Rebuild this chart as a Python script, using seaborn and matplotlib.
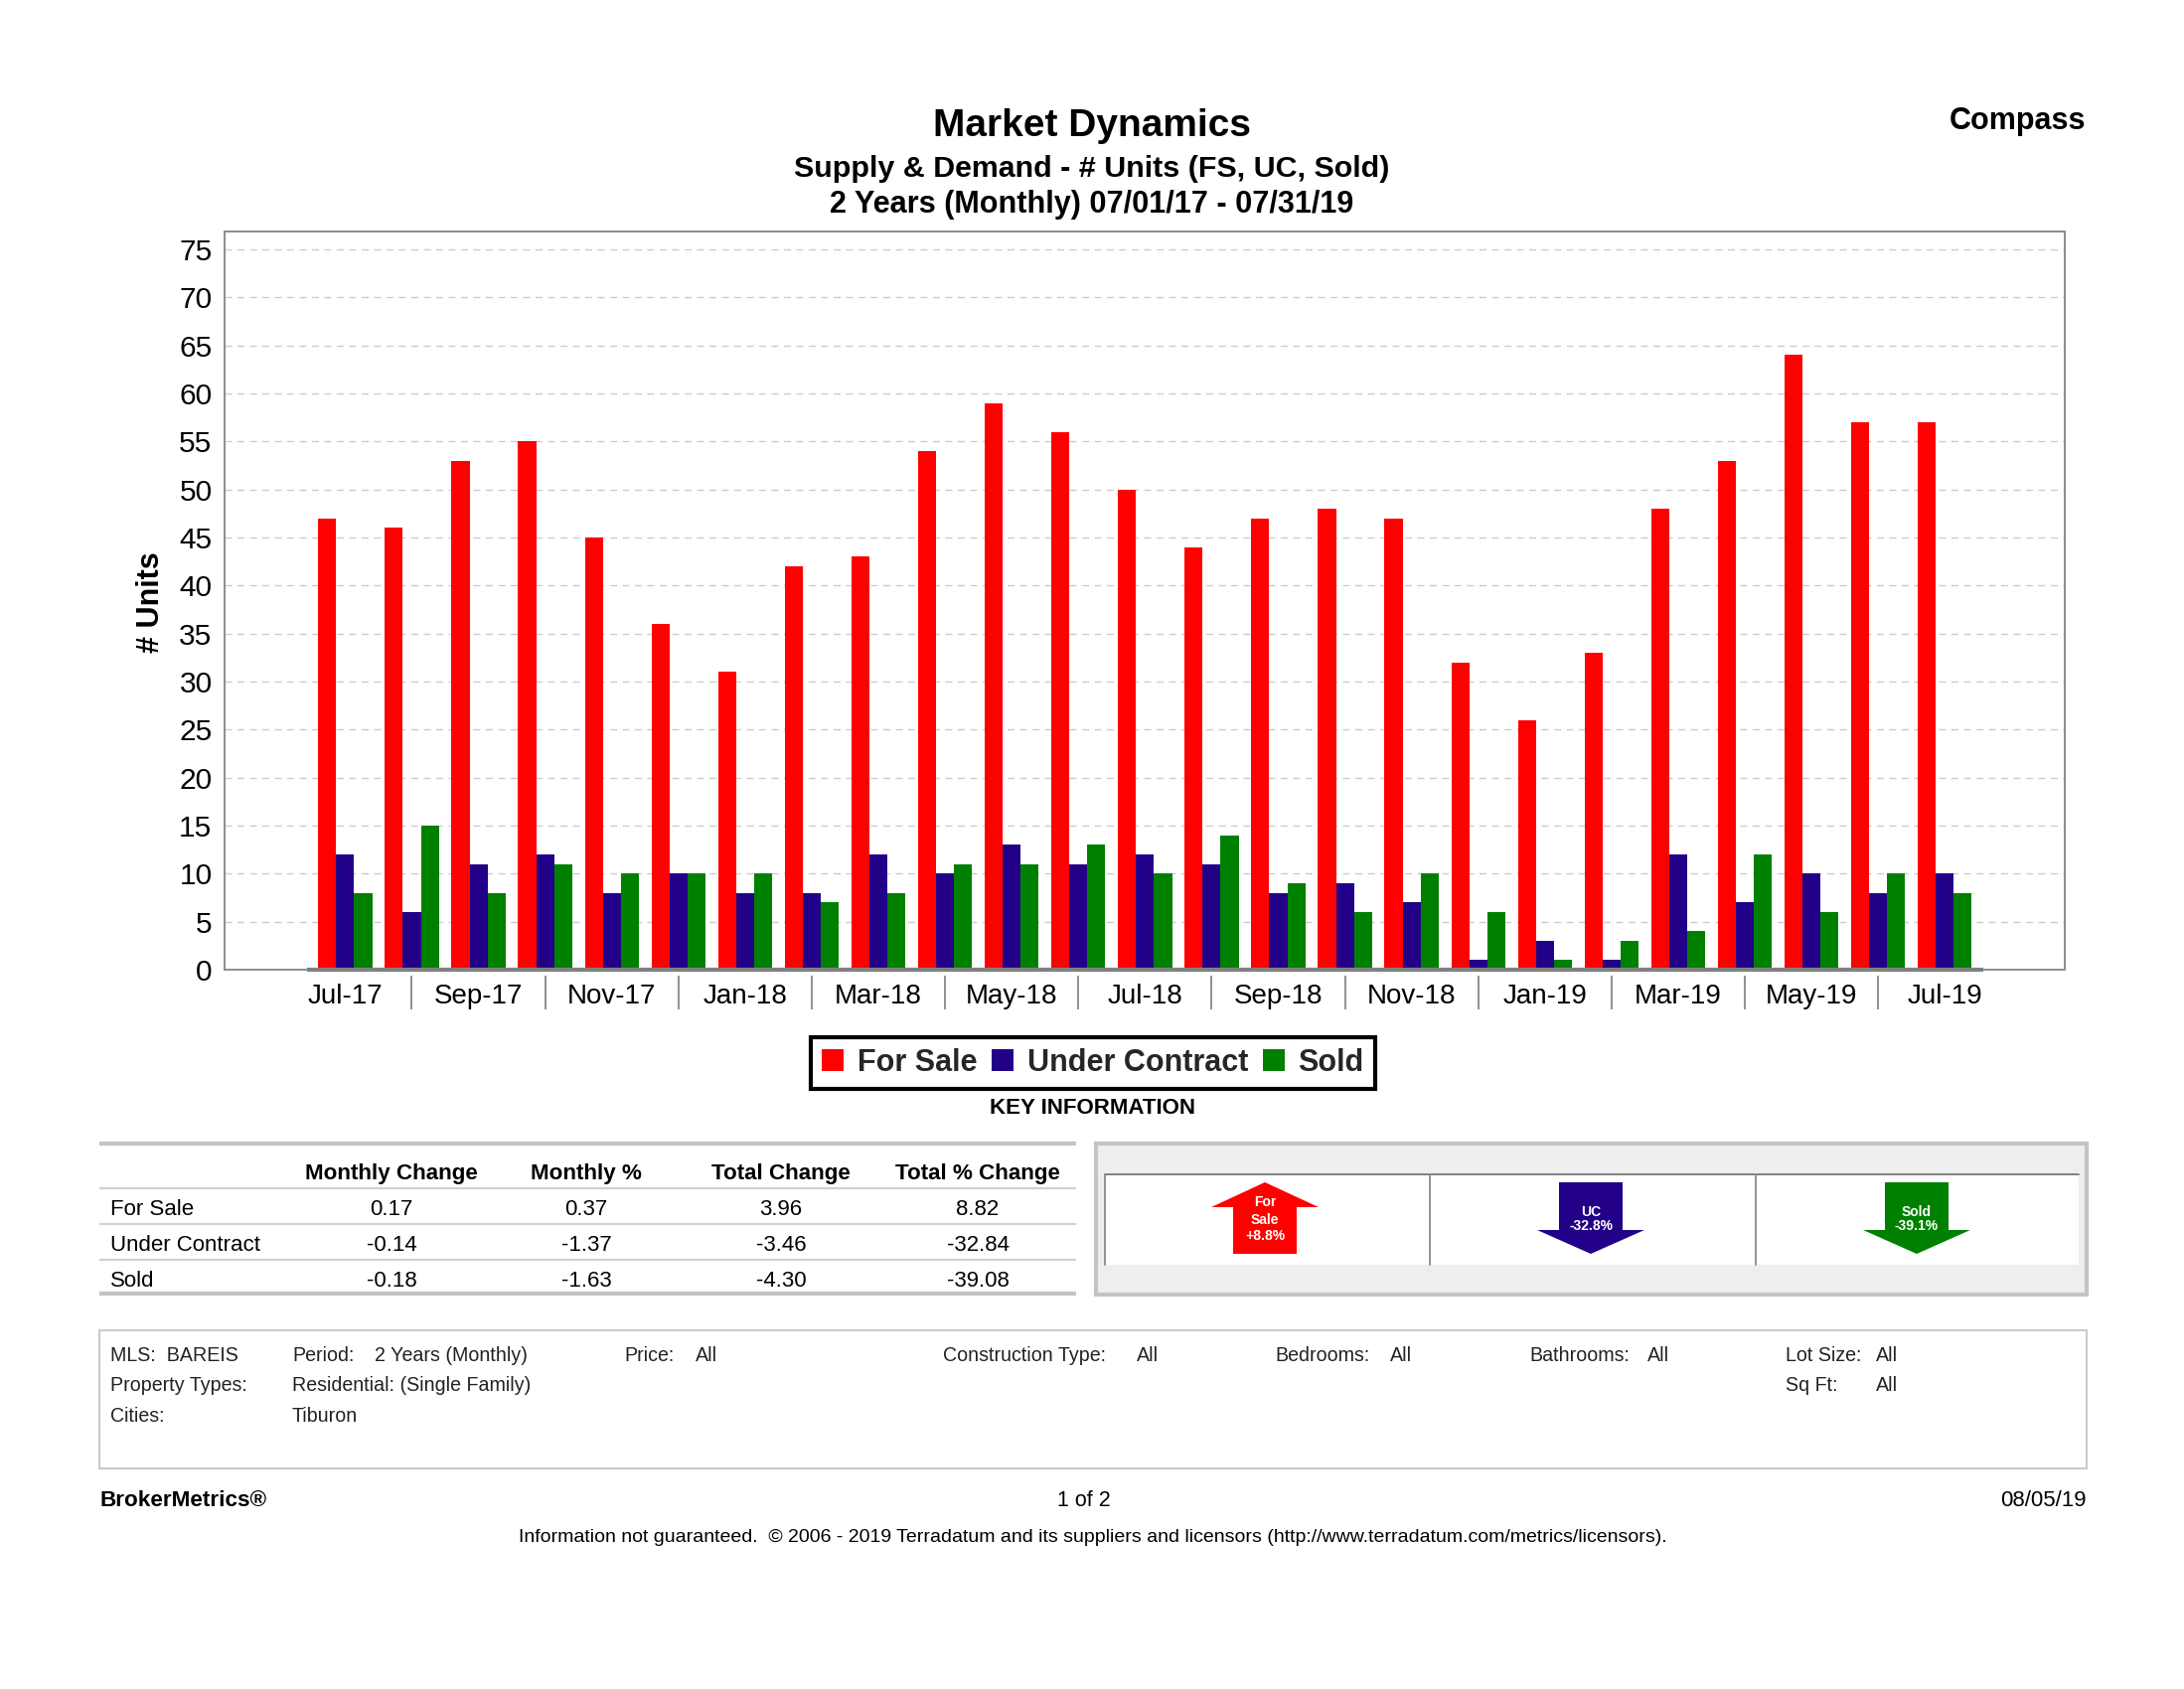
import matplotlib
matplotlib.use("Agg")
import matplotlib.pyplot as plt
from matplotlib.patches import Polygon, Rectangle
import pandas as pd
import seaborn as sns

months = ["Jul-17","Aug-17","Sep-17","Oct-17","Nov-17","Dec-17","Jan-18","Feb-18","Mar-18","Apr-18","May-18","Jun-18",
          "Jul-18","Aug-18","Sep-18","Oct-18","Nov-18","Dec-18","Jan-19","Feb-19","Mar-19","Apr-19","May-19","Jun-19","Jul-19"]
for_sale = [47,46,53,55,45,36,31,42,43,54,59,56,50,44,47,48,47,32,26,33,48,53,64,57,57]
under_contract = [12,6,11,12,8,10,8,8,12,10,13,11,12,11,8,9,7,1,3,1,12,7,10,8,10]
sold = [8,15,8,11,10,10,10,7,8,11,11,13,10,14,9,6,10,6,1,3,4,12,6,10,8]
series_names = ["For Sale","Under Contract","Sold"]
series_colors = ["#ff0000","#220088","#008000"]
table_header = ["Monthly Change","Monthly %","Total Change","Total % Change"]
table_rows = {"For Sale":["0.17","0.37","3.96","8.82"],
              "Under Contract":["-0.14","-1.37","-3.46","-32.84"],
              "Sold":["-0.18","-1.63","-4.30","-39.08"]}

sns.set_theme(style="white")
plt.rcParams["font.family"] = ["Liberation Sans","DejaVu Sans"]
W, H = 2198, 1700
fig = plt.figure(figsize=(W/100, H/100), dpi=100, facecolor="white")
L, R, T, B = 226, 2078, 233, 976
ax = fig.add_axes([L/W, 1-B/H, (R-L)/W, (B-T)/H])

df = pd.DataFrame({"Month": months*3,
                   "Units": for_sale+under_contract+sold,
                   "Series": sum([[n]*len(months) for n in series_names], [])})
sns.barplot(data=df, x="Month", y="Units", hue="Series", order=months, hue_order=series_names,
            palette=series_colors, width=0.81, saturation=1, errorbar=None, ax=ax, linewidth=0)

ax.set_xlim(-1.81, 25.8)
ax.set_ylim(0, 76.85)
ax.set_yticks(range(0, 80, 5))
ax.set_axisbelow(True)
ax.yaxis.grid(True, color="#cccccc", linestyle=(0, (5, 4)), linewidth=1.0)
ax.xaxis.grid(False)
for s in ax.spines.values():
    s.set_color("#8c8c8c"); s.set_linewidth(1.4)
ax.tick_params(axis="y", length=5, width=1.4, color="#808080", labelsize=21.5, pad=4, labelcolor="black")
ax.set_xticks(range(0, len(months), 2))
ax.set_xticklabels(months[::2])
ax.tick_params(axis="x", length=0, labelsize=20, pad=10, labelcolor="black")
ax.set_xlabel("")
ax.set_ylabel("")
ax.hlines(0, -0.58, len(months)-0.42, color="#808080", lw=3, clip_on=False, zorder=4)
ax.vlines(range(1, len(months)-1, 2), -0.008, -0.054, transform=ax.get_xaxis_transform(),
          color="#909090", lw=1.4, clip_on=False)

h, l = ax.get_legend_handles_labels()
leg = ax.legend(h, l, loc="center", bbox_to_anchor=(1100/W, 1-1070/H), bbox_transform=fig.transFigure,
                ncol=3, frameon=True, fancybox=False, edgecolor="black", framealpha=1,
                prop={"weight":"bold","size":22}, handlelength=0.72, handleheight=0.72,
                handletextpad=0.45, columnspacing=0.48, borderpad=0.35, borderaxespad=0)
leg.get_frame().set_linewidth(3)

fg = fig.add_axes([0, 0, 1, 1], zorder=5, facecolor="none")
fg.set_xlim(0, W); fg.set_ylim(H, 0); fg.axis("off")
def ft(x, y, s, size, weight="normal", ha="left", color="black", **kw):
    fg.text(x, y + 2.5, s, fontsize=size, fontweight=weight, ha=ha, va="center", color=color, **kw)

ft(1099, 124, "Market Dynamics", 28, "bold", "center")
ft(1099, 167, "Supply & Demand - # Units (FS, UC, Sold)", 21.9, "bold", "center")
ft(1099, 203, "2 Years (Monthly) 07/01/17 - 07/31/19", 22.1, "bold", "center")
ft(2099, 119, "Compass", 22, "bold", "right")
ft(152, 604, "# Units", 22, "bold", "center", rotation=90)
ft(1099, 1113, "KEY INFORMATION", 16, "bold", "center")

# table
for y, lw, c in [(1151,3,"#c4c4c4"),(1196,1.5,"#d0d0d0"),(1232,1.5,"#d0d0d0"),(1268,1.5,"#d0d0d0"),(1302,3,"#c4c4c4")]:
    fg.plot([100, 1083], [y, y], color=c, lw=lw, solid_capstyle="butt")
col_x = [394, 590, 786, 984]
for x, s in zip(col_x, table_header):
    ft(x, 1179, s, 16.1, "bold", "center")
for y, (name, vals) in zip([1215, 1251, 1287], table_rows.items()):
    ft(111, y, name, 16)
    for x, v in zip(col_x, vals):
        ft(x, y, v, 16, ha="center")

# arrow panel
fg.add_patch(Rectangle((1103, 1151), 997, 152, fc="#eeeeee", ec="#c4c4c4", lw=3))
fg.add_patch(Rectangle((1112, 1182), 980, 91, fc="white", ec="none"))
fg.plot([1112, 2092], [1182, 1182], color="#808080", lw=1.4)
for x in (1112, 1439, 1767):
    fg.plot([x, x], [1182, 1273], color="#909090", lw=1.4)
def up(cx, c):
    fg.add_patch(Polygon([(cx,1190),(cx+54,1215),(cx+32,1215),(cx+32,1262),(cx-32,1262),(cx-32,1215),(cx-54,1215)], fc=c, ec="none"))
def down(cx, c):
    fg.add_patch(Polygon([(cx-32,1190),(cx+32,1190),(cx+32,1238),(cx+54,1238),(cx,1262),(cx-54,1238),(cx-32,1238)], fc=c, ec="none"))
up(1273, series_colors[0]); down(1601, series_colors[1]); down(1929, series_colors[2])
for y, s in zip((1208,1225,1241), ("For","Sale","+8.8%")):
    ft(1273, y, s, 10, "bold", "center", "white")
for y, s in zip((1217,1232), ("UC","-32.8%")):
    ft(1601, y, s, 10, "bold", "center", "white")
for y, s in zip((1217,1232), ("Sold","-39.1%")):
    ft(1929, y, s, 10, "bold", "center", "white")

# criteria box
fg.add_patch(Rectangle((100, 1339), 2000, 139, fc="white", ec="#c8c8c8", lw=1.4))
row1 = [(111,"MLS:  BAREIS"),(294,"Period:"),(377,"2 Years (Monthly)"),(628,"Price:"),(700,"All"),
        (949,"Construction Type:"),(1144,"All"),(1283,"Bedrooms:"),(1399,"All"),(1539,"Bathrooms:"),(1658,"All"),
        (1797,"Lot Size:"),(1888,"All")]
row2 = [(111,"Property Types:"),(294,"Residential: (Single Family)"),(1797,"Sq Ft:"),(1888,"All")]
row3 = [(111,"Cities:"),(294,"Tiburon")]
for y, row in zip((1362,1392,1423), (row1,row2,row3)):
    for x, s in row:
        ft(x, y, s, 14.1, color="#222222")

ft(100, 1508, "BrokerMetrics®", 16.2, "bold")
ft(1091, 1508, "1 of 2", 15.5, ha="center")
ft(2100, 1508, "08/05/19", 16, ha="right")
ft(1100, 1545, "Information not guaranteed.  © 2006 - 2019 Terradatum and its suppliers and licensors (http://www.terradatum.com/metrics/licensors).", 14.0, ha="center")

fig.savefig("out.png", dpi=100, facecolor="white")
